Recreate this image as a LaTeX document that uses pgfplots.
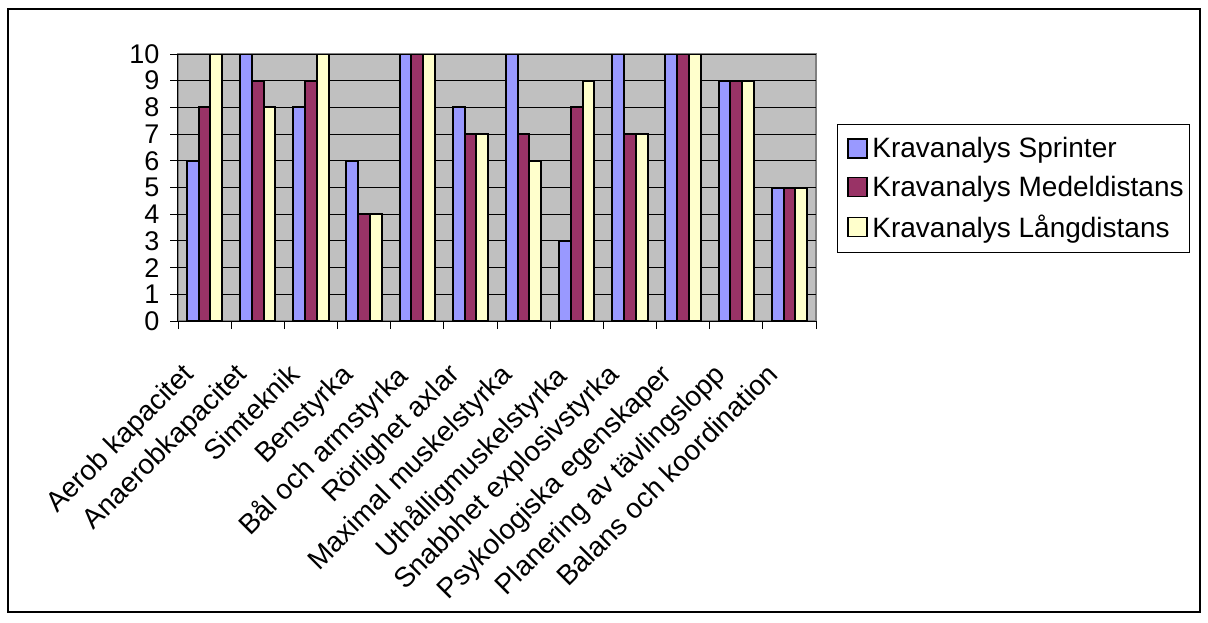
\documentclass[border=0pt]{standalone}
\usepackage{fontspec}
\setmainfont{Liberation Sans}
\usepackage{pgfplots}
\pgfplotsset{compat=1.18}
\definecolor{cSpr}{HTML}{9999FF}
\definecolor{cMed}{HTML}{993366}
\definecolor{cLang}{HTML}{FFFFCC}
\definecolor{plotbg}{HTML}{C0C0C0}
\definecolor{frameg}{HTML}{808080}
\begin{document}
\begin{tikzpicture}[x=1pt,y=1pt]
\useasboundingbox (0,0) rectangle (1208,622);
\draw[line width=1.3pt] (8,613) rectangle (1200,10);
\begin{axis}[
  at={(178pt,301pt)}, anchor=south west,
  scale only axis, width=638pt, height=267pt,
  xmin=-0.5, xmax=11.5, ymin=0, ymax=10,
  axis background/.style={fill=plotbg, draw=frameg, line width=1.2pt},
  axis lines*=left,
  axis line style={line width=1pt, black},
  ybar=0pt, bar width=0.222,
  ytick={0,...,10},
  ymajorgrids, major grid style={black, line width=0.9pt},
  xtick={-0.5,0.5,...,11.5},
  x tick label as interval,
  xticklabels={Aerob kapacitet,Anaerobkapacitet,Simteknik,Benstyrka,Bål och armstyrka,Rörlighet axlar,Maximal muskelstyrka,Uthålligmuskelstyrka,Snabbhet explosivstyrka,Psykologiska egenskaper,Planering av tävlingslopp,Balans och koordination},
  tick align=outside, major tick length=8pt,
  tick style={black, line width=0.9pt},
  /pgf/number format/assume math mode=true,
  yticklabel style={font=\fontsize{27}{30}\selectfont, xshift=-7pt},
  xticklabel style={font=\fontsize{28}{30}\selectfont, xshift=-24pt, yshift=-28pt, rotate=45, anchor=north east},
  legend style={at={(1.0329,0.7378)}, anchor=north west, draw=black, line width=0.8pt, fill=white,
    font=\fontsize{28}{30}\selectfont, inner xsep=4pt, inner ysep=11pt, row sep=13pt},
  legend cell align=left,
  legend image code/.code={\path (0pt,0pt) (27pt,0pt); \draw[#1, draw=black, line width=1.8pt] (6pt,-9.5pt) rectangle (25pt,9.5pt);},
]
\addplot[fill=cSpr, draw=black, line width=2pt] coordinates {(0,6) (1,10) (2,8) (3,6) (4,10) (5,8) (6,10) (7,3) (8,10) (9,10) (10,9) (11,5)};
\addplot[fill=cMed, draw=black, line width=2pt] coordinates {(0,8) (1,9) (2,9) (3,4) (4,10) (5,7) (6,7) (7,8) (8,7) (9,10) (10,9) (11,5)};
\addplot[fill=cLang, draw=black, line width=2pt] coordinates {(0,10) (1,8) (2,10) (3,4) (4,10) (5,7) (6,6) (7,9) (8,7) (9,10) (10,9) (11,5)};
\legend{Kravanalys Sprinter,Kravanalys Medeldistans,Kravanalys Långdistans}
\end{axis}
\end{tikzpicture}
\end{document}
